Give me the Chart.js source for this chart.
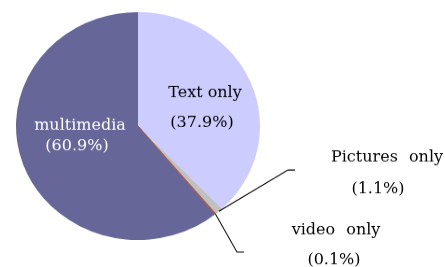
<!DOCTYPE html>
<html>
<head>
<meta charset="utf-8">
<script src="https://cdn.jsdelivr.net/npm/chart.js@4"></script>
<style>
    html, body { margin: 0; padding: 0; background: #fff; overflow: hidden; }
    /* the original pie is a bit flattened, so squash the canvas vertically */
    #wrap { width: 445px; height: 286px; transform: scaleY(0.9336); transform-origin: 0 0; }
</style>
</head>
<body>
<div id="wrap"><canvas id="pieChart" width="445" height="286"></canvas></div>
<script>
    var sliceNames = ["Text only", "Pictures only", "video only", "multimedia"];
    var sliceShares = [37.9, 1.1, 0.1, 60.9];
    var sliceColors = ["#ccccff", "#c0c0c0", "#c8501e", "#666699"];

    var SQUASH = 0.9336;

    // where each label goes on screen (name baseline, value baseline)
    var labelSpots = [
        { x: 205, y: 97, vx: 202, vy: 127, color: "#000000" },
        { x: 387, y: 161.5, vx: 378, vy: 193.5, color: "#000000", leader: [[288, 170], [295, 170]] },
        { x: 336, y: 234, vx: 334, vy: 264, color: "#000000", leader: [[237, 252], [244, 252]] },
        { x: 80, y: 130, vx: 77, vy: 150, color: "#ffffff" }
    ];

    var pieLabels = {
        id: "pieLabels",
        afterDraw: function (chart) {
            var ctx = chart.ctx;
            var arcs = chart.getDatasetMeta(0).data;
            ctx.save();
            ctx.scale(1, 1 / SQUASH);
            ctx.font = "16px 'DejaVu Serif'";
            ctx.textAlign = "center";
            ctx.textBaseline = "alphabetic";
            for (var i = 0; i < arcs.length; i++) {
                var spot = labelSpots[i];
                if (spot.leader) {
                    var arc = arcs[i];
                    var mid = (arc.startAngle + arc.endAngle) / 2;
                    var sx = arc.x + arc.outerRadius * Math.cos(mid);
                    var sy = (arc.y + arc.outerRadius * Math.sin(mid)) * SQUASH;
                    ctx.strokeStyle = "#000000";
                    ctx.lineWidth = 1;
                    ctx.beginPath();
                    ctx.moveTo(sx, sy);
                    ctx.lineTo(spot.leader[0][0], spot.leader[0][1]);
                    ctx.lineTo(spot.leader[1][0], spot.leader[1][1]);
                    ctx.stroke();
                }
                ctx.fillStyle = spot.color;
                ctx.wordSpacing = spot.leader ? "6px" : "0px";
                ctx.fillText(sliceNames[i], spot.x, spot.y);
                ctx.wordSpacing = "0px";
                ctx.fillText("(" + sliceShares[i].toFixed(1) + "%)", spot.vx, spot.vy);
            }
            ctx.restore();
        }
    };

    new Chart("pieChart", {
        type: "pie",
        data: {
            labels: sliceNames,
            datasets: [{
                data: sliceShares,
                backgroundColor: sliceColors,
                borderColor: sliceColors,
                borderWidth: [0, 0, 1, 0],
                radius: 122
            }]
        },
        options: {
            responsive: false,
            animation: false,
            layout: { padding: { left: 16, right: 185, top: 13, bottom: 29 } },
            plugins: {
                legend: { display: false },
                tooltip: { enabled: false }
            }
        },
        plugins: [pieLabels]
    });
</script>
</body>
</html>
